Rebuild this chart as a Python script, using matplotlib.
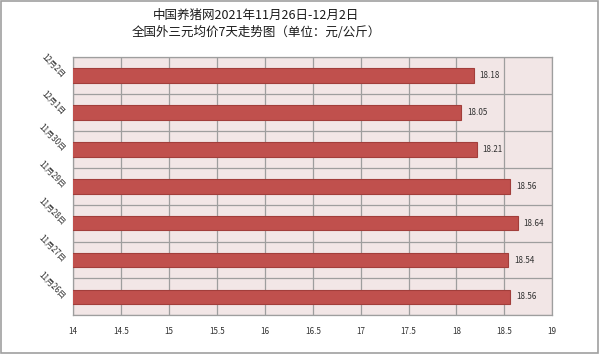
import matplotlib
matplotlib.use('Agg')
import matplotlib.pyplot as plt
from matplotlib.patches import Rectangle
import numpy as np

plt.rcParams['font.family'] = ['Noto Sans CJK SC', 'DejaVu Sans']

dates = ['11月26日', '11月27日', '11月28日', '11月29日', '11月30日', '12月1日', '12月2日']
prices = [18.56, 18.54, 18.64, 18.56, 18.21, 18.05, 18.18]
xticks = [14, 14.5, 15, 15.5, 16, 16.5, 17, 17.5, 18, 18.5, 19]
title1 = '中国养猪网2021年11月26日-12月2日'
title2 = '全国外三元均价7天走势图（单位：元/公斤）'

fig = plt.figure(figsize=(6, 3.54), dpi=100)
ax = fig.add_axes([0.122, 0.109, 0.7985, 0.7305])

y = np.arange(len(dates))
ax.barh(y, prices, left=0, height=0.4, color='#C0504D',
        edgecolor='#A23E3B', linewidth=0.8, zorder=3)

ax.set_xlim(14, 19)
ax.set_ylim(-0.5, len(dates) - 0.5)
ax.set_facecolor('#F2E6E6')

# grid lines
for t in xticks:
    ax.axvline(t, color='#9E9E9E', linewidth=0.9, zorder=1)
for k in range(len(dates) + 1):
    ax.axhline(k - 0.5, color='#9E9E9E', linewidth=0.9, zorder=1)

for s in ax.spines.values():
    s.set_color('#9E9E9E')
    s.set_linewidth(0.9)

ax.set_xticks(xticks)
ax.set_xticklabels([('%g' % t) for t in xticks], fontsize=5.8, color='#303030')
ax.tick_params(axis='x', length=0, pad=8)
ax.set_yticks([])

for yi, d in zip(y, dates):
    ax.text(-0.02, yi - 0.02, d, transform=ax.get_yaxis_transform(),
            rotation=-45, rotation_mode='anchor', ha='right', va='center',
            fontsize=5.8, color='#303030')

for yi, p in zip(y, prices):
    ax.text(p + 0.06, yi, '%.2f' % p, ha='left', va='center',
            fontsize=5.8, color='#303030', zorder=4)

fig.text(0.427, 0.957, title1, ha='center', va='center', fontsize=9, color='#1A1A1A')
fig.text(0.427, 0.909, title2, ha='center', va='center', fontsize=9, color='#1A1A1A')

fig.patches.append(Rectangle((0.002, 0.003), 0.995, 0.994, transform=fig.transFigure,
                             fill=False, edgecolor='#A0A0A0', linewidth=1.2))

fig.savefig('out.png', dpi=100)
